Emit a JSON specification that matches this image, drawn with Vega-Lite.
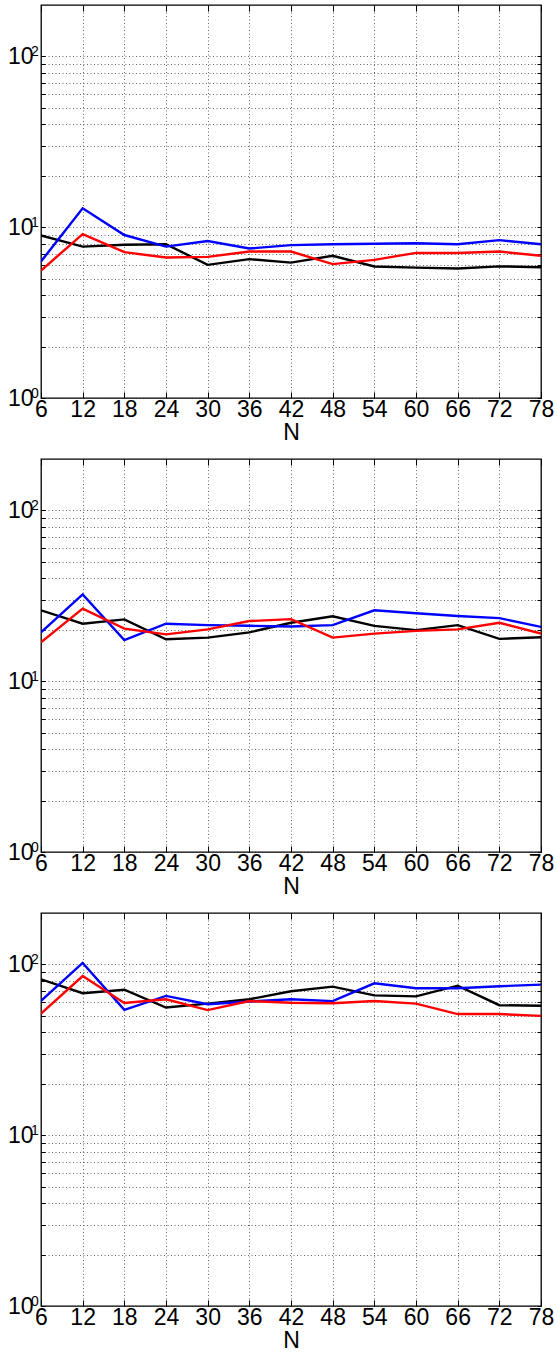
{
  "$schema": "https://vega.github.io/schema/vega-lite/v6.json",
  "background": "white",
  "padding": {"left": 6, "top": 3, "right": 8, "bottom": 5},
  "config": {
    "font": "Liberation Sans",
    "view": {"stroke": "#000000", "strokeWidth": 1.3},
    "text": {"font": "Liberation Sans"},
    "axis": {
      "labelFont": "Liberation Sans", "labelFontSize": 23, "labelColor": "#000000",
      "titleFont": "Liberation Sans", "titleFontSize": 23, "titleFontWeight": "normal", "titleColor": "#000000",
      "domain": false,
      "gridColor": "#222222", "gridDash": [1, 2.5], "gridOpacity": 0.85, "gridWidth": 0.8,
      "tickColor": "#000000", "tickWidth": 1,
      "labelOverlap": false, "labelBound": false, "labelFlush": false
    }
  },
  "spacing": 61,
  "bounds": "flush",
  "datasets": {
    "exps": [
      {"value": 1, "exp": "0"}, {"value": 10, "exp": "1"}, {"value": 100, "exp": "2"}
    ],
    "d": [
      {"panel": 1, "series": "black", "N": 6, "value": 8.94}, {"panel": 1, "series": "black", "N": 12, "value": 7.7}, {"panel": 1, "series": "black", "N": 18, "value": 7.9}, {"panel": 1, "series": "black", "N": 24, "value": 7.95}, {"panel": 1, "series": "black", "N": 30, "value": 6.02}, {"panel": 1, "series": "black", "N": 36, "value": 6.5}, {"panel": 1, "series": "black", "N": 42, "value": 6.2}, {"panel": 1, "series": "black", "N": 48, "value": 6.8}, {"panel": 1, "series": "black", "N": 54, "value": 5.89}, {"panel": 1, "series": "black", "N": 60, "value": 5.8}, {"panel": 1, "series": "black", "N": 66, "value": 5.73}, {"panel": 1, "series": "black", "N": 72, "value": 5.9}, {"panel": 1, "series": "black", "N": 78, "value": 5.83},
      {"panel": 1, "series": "blue", "N": 6, "value": 6.3}, {"panel": 1, "series": "blue", "N": 12, "value": 12.9}, {"panel": 1, "series": "blue", "N": 18, "value": 9.0}, {"panel": 1, "series": "blue", "N": 24, "value": 7.7}, {"panel": 1, "series": "blue", "N": 30, "value": 8.3}, {"panel": 1, "series": "blue", "N": 36, "value": 7.5}, {"panel": 1, "series": "blue", "N": 42, "value": 7.85}, {"panel": 1, "series": "blue", "N": 48, "value": 7.95}, {"panel": 1, "series": "blue", "N": 54, "value": 8.0}, {"panel": 1, "series": "blue", "N": 60, "value": 8.05}, {"panel": 1, "series": "blue", "N": 66, "value": 7.95}, {"panel": 1, "series": "blue", "N": 72, "value": 8.4}, {"panel": 1, "series": "blue", "N": 78, "value": 7.95},
      {"panel": 1, "series": "red", "N": 6, "value": 5.58}, {"panel": 1, "series": "red", "N": 12, "value": 9.1}, {"panel": 1, "series": "red", "N": 18, "value": 7.14}, {"panel": 1, "series": "red", "N": 24, "value": 6.65}, {"panel": 1, "series": "red", "N": 30, "value": 6.7}, {"panel": 1, "series": "red", "N": 36, "value": 7.2}, {"panel": 1, "series": "red", "N": 42, "value": 7.2}, {"panel": 1, "series": "red", "N": 48, "value": 6.08}, {"panel": 1, "series": "red", "N": 54, "value": 6.44}, {"panel": 1, "series": "red", "N": 60, "value": 7.07}, {"panel": 1, "series": "red", "N": 66, "value": 7.07}, {"panel": 1, "series": "red", "N": 72, "value": 7.2}, {"panel": 1, "series": "red", "N": 78, "value": 6.8},
      {"panel": 2, "series": "black", "N": 6, "value": 26.0}, {"panel": 2, "series": "black", "N": 12, "value": 21.7}, {"panel": 2, "series": "black", "N": 18, "value": 23.0}, {"panel": 2, "series": "black", "N": 24, "value": 17.6}, {"panel": 2, "series": "black", "N": 30, "value": 18.0}, {"panel": 2, "series": "black", "N": 36, "value": 19.3}, {"panel": 2, "series": "black", "N": 42, "value": 22.0}, {"panel": 2, "series": "black", "N": 48, "value": 24.0}, {"panel": 2, "series": "black", "N": 54, "value": 21.1}, {"panel": 2, "series": "black", "N": 60, "value": 19.9}, {"panel": 2, "series": "black", "N": 66, "value": 21.3}, {"panel": 2, "series": "black", "N": 72, "value": 17.7}, {"panel": 2, "series": "black", "N": 78, "value": 18.1},
      {"panel": 2, "series": "blue", "N": 6, "value": 19.3}, {"panel": 2, "series": "blue", "N": 12, "value": 32.2}, {"panel": 2, "series": "blue", "N": 18, "value": 17.4}, {"panel": 2, "series": "blue", "N": 24, "value": 21.7}, {"panel": 2, "series": "blue", "N": 30, "value": 21.3}, {"panel": 2, "series": "blue", "N": 36, "value": 21.1}, {"panel": 2, "series": "blue", "N": 42, "value": 20.9}, {"panel": 2, "series": "blue", "N": 48, "value": 21.3}, {"panel": 2, "series": "blue", "N": 54, "value": 26.0}, {"panel": 2, "series": "blue", "N": 60, "value": 25.0}, {"panel": 2, "series": "blue", "N": 66, "value": 24.1}, {"panel": 2, "series": "blue", "N": 72, "value": 23.4}, {"panel": 2, "series": "blue", "N": 78, "value": 20.8},
      {"panel": 2, "series": "red", "N": 6, "value": 16.9}, {"panel": 2, "series": "red", "N": 12, "value": 26.6}, {"panel": 2, "series": "red", "N": 18, "value": 20.3}, {"panel": 2, "series": "red", "N": 24, "value": 18.8}, {"panel": 2, "series": "red", "N": 30, "value": 20.1}, {"panel": 2, "series": "red", "N": 36, "value": 22.5}, {"panel": 2, "series": "red", "N": 42, "value": 23.1}, {"panel": 2, "series": "red", "N": 48, "value": 18.0}, {"panel": 2, "series": "red", "N": 54, "value": 19.0}, {"panel": 2, "series": "red", "N": 60, "value": 19.7}, {"panel": 2, "series": "red", "N": 66, "value": 20.1}, {"panel": 2, "series": "red", "N": 72, "value": 22.0}, {"panel": 2, "series": "red", "N": 78, "value": 19.0},
      {"panel": 3, "series": "black", "N": 6, "value": 81.8}, {"panel": 3, "series": "black", "N": 12, "value": 67.8}, {"panel": 3, "series": "black", "N": 18, "value": 71.1}, {"panel": 3, "series": "black", "N": 24, "value": 55.9}, {"panel": 3, "series": "black", "N": 30, "value": 58.9}, {"panel": 3, "series": "black", "N": 36, "value": 62.5}, {"panel": 3, "series": "black", "N": 42, "value": 69.6}, {"panel": 3, "series": "black", "N": 48, "value": 74.1}, {"panel": 3, "series": "black", "N": 54, "value": 65.9}, {"panel": 3, "series": "black", "N": 60, "value": 65.0}, {"panel": 3, "series": "black", "N": 66, "value": 75.1}, {"panel": 3, "series": "black", "N": 72, "value": 57.7}, {"panel": 3, "series": "black", "N": 78, "value": 57.3},
      {"panel": 3, "series": "blue", "N": 6, "value": 61.1}, {"panel": 3, "series": "blue", "N": 12, "value": 102}, {"panel": 3, "series": "blue", "N": 18, "value": 54.2}, {"panel": 3, "series": "blue", "N": 24, "value": 65.4}, {"panel": 3, "series": "blue", "N": 30, "value": 58.5}, {"panel": 3, "series": "blue", "N": 36, "value": 60.6}, {"panel": 3, "series": "blue", "N": 42, "value": 62.5}, {"panel": 3, "series": "blue", "N": 48, "value": 61.0}, {"panel": 3, "series": "blue", "N": 54, "value": 77.5}, {"panel": 3, "series": "blue", "N": 60, "value": 72.5}, {"panel": 3, "series": "blue", "N": 66, "value": 72.5}, {"panel": 3, "series": "blue", "N": 72, "value": 74.5}, {"panel": 3, "series": "blue", "N": 78, "value": 76.1},
      {"panel": 3, "series": "red", "N": 6, "value": 51.6}, {"panel": 3, "series": "red", "N": 12, "value": 85.5}, {"panel": 3, "series": "red", "N": 18, "value": 59.5}, {"panel": 3, "series": "red", "N": 24, "value": 62.5}, {"panel": 3, "series": "red", "N": 30, "value": 54.0}, {"panel": 3, "series": "red", "N": 36, "value": 61.0}, {"panel": 3, "series": "red", "N": 42, "value": 59.7}, {"panel": 3, "series": "red", "N": 48, "value": 59.2}, {"panel": 3, "series": "red", "N": 54, "value": 61.1}, {"panel": 3, "series": "red", "N": 60, "value": 58.9}, {"panel": 3, "series": "red", "N": 66, "value": 51.2}, {"panel": 3, "series": "red", "N": 72, "value": 51.2}, {"panel": 3, "series": "red", "N": 78, "value": 50.0}
    ]
  },
  "vconcat": [
    {
      "width": 500, "height": 393,
      "resolve": {"axis": {"x": "independent", "y": "independent"}},
      "layer": [
        {
          "data": {"name": "d"},
          "transform": [{"filter": "datum.panel == 1"}],
          "mark": {"type": "line", "strokeWidth": 2.4, "clip": true},
          "encoding": {
            "x": {"field": "N", "type": "quantitative", "scale": {"domain": [6, 78], "nice": false, "zero": false},
              "axis": {"values": [6, 12, 18, 24, 30, 36, 42, 48, 54, 60, 66, 72, 78], "title": "N", "tickSize": -6, "labelPadding": 6, "titlePadding": 0}},
            "y": {"field": "value", "type": "quantitative", "scale": {"type": "log", "domain": [1, 200], "nice": false},
              "axis": {"values": [1, 2, 3, 4, 5, 6, 7, 8, 9, 10, 20, 30, 40, 50, 60, 70, 80, 90, 100], "title": null, "tickSize": -4, "labelPadding": 12,
                "labelExpr": "datum.value == 1 || datum.value == 10 || datum.value == 100 ? '10' : ''"}},
            "color": {"field": "series", "type": "nominal", "scale": {"domain": ["black", "blue", "red"], "range": ["#000000", "#0000ff", "#ff0000"]}, "legend": null}
          }
        },
        {
          "data": {"name": "exps"},
          "mark": {"type": "text", "align": "left", "baseline": "alphabetic", "dx": -10, "dy": 0, "fontSize": 14, "color": "#000000", "clip": false},
          "encoding": {
            "x": {"datum": 6, "type": "quantitative",
              "axis": {"orient": "top", "values": [6, 12, 18, 24, 30, 36, 42, 48, 54, 60, 66, 72, 78], "labels": false, "grid": false, "title": null, "tickSize": -6}},
            "y": {"field": "value", "type": "quantitative",
              "axis": {"orient": "right", "values": [1, 2, 3, 4, 5, 6, 7, 8, 9, 10, 20, 30, 40, 50, 60, 70, 80, 90, 100], "labels": false, "grid": false, "title": null, "tickSize": -4}},
            "text": {"field": "exp", "type": "nominal"}
          }
        }
      ]
    },
    {
      "width": 500, "height": 393,
      "resolve": {"axis": {"x": "independent", "y": "independent"}},
      "layer": [
        {
          "data": {"name": "d"},
          "transform": [{"filter": "datum.panel == 2"}],
          "mark": {"type": "line", "strokeWidth": 2.4, "clip": true},
          "encoding": {
            "x": {"field": "N", "type": "quantitative", "scale": {"domain": [6, 78], "nice": false, "zero": false},
              "axis": {"values": [6, 12, 18, 24, 30, 36, 42, 48, 54, 60, 66, 72, 78], "title": "N", "tickSize": -6, "labelPadding": 6, "titlePadding": 0}},
            "y": {"field": "value", "type": "quantitative", "scale": {"type": "log", "domain": [1, 200], "nice": false},
              "axis": {"values": [1, 2, 3, 4, 5, 6, 7, 8, 9, 10, 20, 30, 40, 50, 60, 70, 80, 90, 100], "title": null, "tickSize": -4, "labelPadding": 12,
                "labelExpr": "datum.value == 1 || datum.value == 10 || datum.value == 100 ? '10' : ''"}},
            "color": {"field": "series", "type": "nominal", "scale": {"domain": ["black", "blue", "red"], "range": ["#000000", "#0000ff", "#ff0000"]}, "legend": null}
          }
        },
        {
          "data": {"name": "exps"},
          "mark": {"type": "text", "align": "left", "baseline": "alphabetic", "dx": -10, "dy": 0, "fontSize": 14, "color": "#000000", "clip": false},
          "encoding": {
            "x": {"datum": 6, "type": "quantitative",
              "axis": {"orient": "top", "values": [6, 12, 18, 24, 30, 36, 42, 48, 54, 60, 66, 72, 78], "labels": false, "grid": false, "title": null, "tickSize": -6}},
            "y": {"field": "value", "type": "quantitative",
              "axis": {"orient": "right", "values": [1, 2, 3, 4, 5, 6, 7, 8, 9, 10, 20, 30, 40, 50, 60, 70, 80, 90, 100], "labels": false, "grid": false, "title": null, "tickSize": -4}},
            "text": {"field": "exp", "type": "nominal"}
          }
        }
      ]
    },
    {
      "width": 500, "height": 393,
      "resolve": {"axis": {"x": "independent", "y": "independent"}},
      "layer": [
        {
          "data": {"name": "d"},
          "transform": [{"filter": "datum.panel == 3"}],
          "mark": {"type": "line", "strokeWidth": 2.4, "clip": true},
          "encoding": {
            "x": {"field": "N", "type": "quantitative", "scale": {"domain": [6, 78], "nice": false, "zero": false},
              "axis": {"values": [6, 12, 18, 24, 30, 36, 42, 48, 54, 60, 66, 72, 78], "title": "N", "tickSize": -6, "labelPadding": 6, "titlePadding": 0}},
            "y": {"field": "value", "type": "quantitative", "scale": {"type": "log", "domain": [1, 200], "nice": false},
              "axis": {"values": [1, 2, 3, 4, 5, 6, 7, 8, 9, 10, 20, 30, 40, 50, 60, 70, 80, 90, 100], "title": null, "tickSize": -4, "labelPadding": 12,
                "labelExpr": "datum.value == 1 || datum.value == 10 || datum.value == 100 ? '10' : ''"}},
            "color": {"field": "series", "type": "nominal", "scale": {"domain": ["black", "blue", "red"], "range": ["#000000", "#0000ff", "#ff0000"]}, "legend": null}
          }
        },
        {
          "data": {"name": "exps"},
          "mark": {"type": "text", "align": "left", "baseline": "alphabetic", "dx": -10, "dy": 0, "fontSize": 14, "color": "#000000", "clip": false},
          "encoding": {
            "x": {"datum": 6, "type": "quantitative",
              "axis": {"orient": "top", "values": [6, 12, 18, 24, 30, 36, 42, 48, 54, 60, 66, 72, 78], "labels": false, "grid": false, "title": null, "tickSize": -6}},
            "y": {"field": "value", "type": "quantitative",
              "axis": {"orient": "right", "values": [1, 2, 3, 4, 5, 6, 7, 8, 9, 10, 20, 30, 40, 50, 60, 70, 80, 90, 100], "labels": false, "grid": false, "title": null, "tickSize": -4}},
            "text": {"field": "exp", "type": "nominal"}
          }
        }
      ]
    }
  ]
}
